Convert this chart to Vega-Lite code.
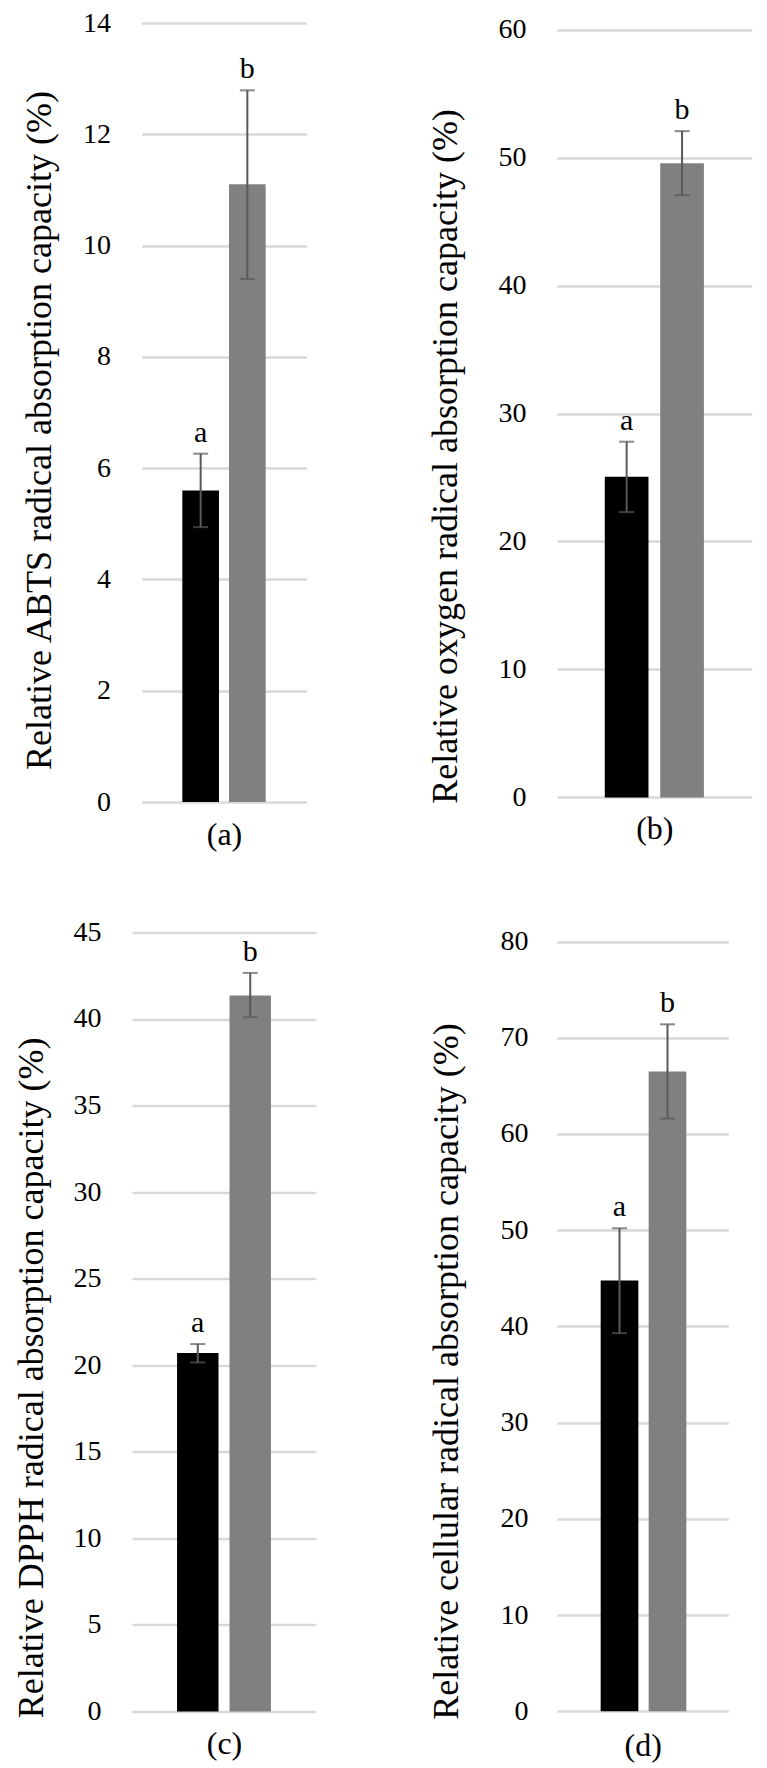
{
  "$schema": "https://vega.github.io/schema/vega-lite/v6.json",
  "padding": {"left": 13, "top": 9, "right": 15, "bottom": 10},
  "config": {
    "view": {"stroke": null},
    "font": "Liberation Serif",
    "text": {"font": "Liberation Serif"},
    "axis": {"labelFont": "Liberation Serif", "titleFont": "Liberation Serif", "labelColor": "#000000", "titleColor": "#000000", "titleFontWeight": "normal", "labelOverlap": false, "labelBound": false, "labelFlush": false, "format": "d"}
  },
  "bounds": "full",
  "spacing": 111,
  "hconcat": [
    {
      "vconcat": [
        {
          "width": 165, "height": 779,
          "data": {"values": [
            {"grp": "G1", "mean": 5.6, "lo": 4.94, "hi": 6.26, "letter": "a"},
            {"grp": "G2", "mean": 11.1, "lo": 9.4, "hi": 12.79, "letter": "b"}
          ]},
          "encoding": {"x": {"field": "grp", "type": "nominal", "sort": null,
            "scale": {"paddingInner": 0.214, "paddingOuter": 0.875},
            "axis": {"title": "(a)", "labels": false, "ticks": false, "domain": false, "grid": false, "titleFontSize": 32, "titleY": 32, "titleBaseline": "middle"}}},
          "layer": [
            {"mark": {"type": "bar"}, "encoding": {
              "y": {"field": "mean", "type": "quantitative", "title": "Relative ABTS radical absorption capacity (%)", "scale": {"domain": [0, 14], "nice": false},
                "axis": {"values": [0, 2, 4, 6, 8, 10, 12, 14], "format": "d", "grid": true, "gridColor": "#d9d9d9", "gridWidth": 2.5, "ticks": false, "domain": false, "labelFontSize": 28, "labelPadding": 31, "titleFontSize": 36, "titleX": -91, "titleY": 407, "titleAngle": -90, "titleAlign": "center", "titleBaseline": "alphabetic"}},
              "color": {"field": "grp", "type": "nominal", "scale": {"domain": ["G1", "G2"], "range": ["#000000", "#808080"]}, "legend": null}}},
            {"mark": {"type": "rule", "stroke": "#595959", "strokeWidth": 2}, "encoding": {
              "y": {"field": "lo", "type": "quantitative", "title": "Relative ABTS radical absorption capacity (%)", "scale": {"domain": [0, 14], "nice": false}}, "y2": {"field": "hi"}}},
            {"mark": {"type": "tick", "size": 15, "thickness": 2, "color": "#595959"}, "encoding": {
              "y": {"field": "lo", "type": "quantitative", "title": "Relative ABTS radical absorption capacity (%)", "scale": {"domain": [0, 14], "nice": false}}}},
            {"mark": {"type": "tick", "size": 15, "thickness": 2, "color": "#595959"}, "encoding": {
              "y": {"field": "hi", "type": "quantitative", "title": "Relative ABTS radical absorption capacity (%)", "scale": {"domain": [0, 14], "nice": false}}}},
            {"mark": {"type": "text", "font": "Liberation Serif", "fontSize": 30, "dy": -12, "baseline": "alphabetic", "align": "center", "color": "#000000"}, "encoding": {
              "y": {"field": "hi", "type": "quantitative", "title": "Relative ABTS radical absorption capacity (%)", "scale": {"domain": [0, 14], "nice": false}},
              "text": {"field": "letter"}}}
          ]
        },
        {
          "width": 184, "height": 779,
          "data": {"values": [
            {"grp": "G1", "mean": 20.7, "lo": 20.16, "hi": 21.22, "letter": "a"},
            {"grp": "G2", "mean": 41.35, "lo": 40.1, "hi": 42.66, "letter": "b"}
          ]},
          "encoding": {"x": {"field": "grp", "type": "nominal", "sort": null,
            "scale": {"paddingInner": 0.21, "paddingOuter": 0.859},
            "axis": {"title": "(c)", "labels": false, "ticks": false, "domain": false, "grid": false, "titleFontSize": 32, "titleY": 32, "titleBaseline": "middle"}}},
          "layer": [
            {"mark": {"type": "bar"}, "encoding": {
              "y": {"field": "mean", "type": "quantitative", "title": "Relative DPPH radical absorption capacity (%)", "scale": {"domain": [0, 45], "nice": false},
                "axis": {"values": [0, 5, 10, 15, 20, 25, 30, 35, 40, 45], "format": "d", "grid": true, "gridColor": "#d9d9d9", "gridWidth": 2.5, "ticks": false, "domain": false, "labelFontSize": 28, "labelPadding": 31, "titleFontSize": 36, "titleX": -89.6, "titleY": 445, "titleAngle": -90, "titleAlign": "center", "titleBaseline": "alphabetic"}},
              "color": {"field": "grp", "type": "nominal", "scale": {"domain": ["G1", "G2"], "range": ["#000000", "#808080"]}, "legend": null}}},
            {"mark": {"type": "rule", "stroke": "#595959", "strokeWidth": 2}, "encoding": {
              "y": {"field": "lo", "type": "quantitative", "title": "Relative DPPH radical absorption capacity (%)", "scale": {"domain": [0, 45], "nice": false}}, "y2": {"field": "hi"}}},
            {"mark": {"type": "tick", "size": 15, "thickness": 2, "color": "#595959"}, "encoding": {
              "y": {"field": "lo", "type": "quantitative", "title": "Relative DPPH radical absorption capacity (%)", "scale": {"domain": [0, 45], "nice": false}}}},
            {"mark": {"type": "tick", "size": 15, "thickness": 2, "color": "#595959"}, "encoding": {
              "y": {"field": "hi", "type": "quantitative", "title": "Relative DPPH radical absorption capacity (%)", "scale": {"domain": [0, 45], "nice": false}}}},
            {"mark": {"type": "text", "font": "Liberation Serif", "fontSize": 30, "dy": -12, "baseline": "alphabetic", "align": "center", "color": "#000000"}, "encoding": {
              "y": {"field": "hi", "type": "quantitative", "title": "Relative DPPH radical absorption capacity (%)", "scale": {"domain": [0, 45], "nice": false}},
              "text": {"field": "letter"}}}
          ]
        }
      ],
      "spacing": 130.4,
      "center": true,
      "bounds": "flush"
    },
    {
      "vconcat": [
        {
          "width": 194.7, "height": 774.4,
          "data": {"values": [
            {"grp": "G1", "mean": 25.05, "lo": 22.3, "hi": 27.8, "letter": "a"},
            {"grp": "G2", "mean": 49.55, "lo": 47.06, "hi": 52.07, "letter": "b"}
          ]},
          "encoding": {"x": {"field": "grp", "type": "nominal", "sort": null,
            "scale": {"paddingInner": 0.2116, "paddingOuter": 0.8626},
            "axis": {"title": "(b)", "labels": false, "ticks": false, "domain": false, "grid": false, "titleFontSize": 32, "titleY": 31, "titleBaseline": "middle"}}},
          "layer": [
            {"mark": {"type": "bar"}, "encoding": {
              "y": {"field": "mean", "type": "quantitative", "title": "Relative oxygen radical absorption capacity (%)", "scale": {"domain": [0, 60.52], "nice": false},
                "axis": {"values": [0, 10, 20, 30, 40, 50, 60], "format": "d", "grid": true, "gridColor": "#d9d9d9", "gridWidth": 2.5, "ticks": false, "domain": false, "labelFontSize": 28, "labelPadding": 31, "titleFontSize": 36, "titleX": -100.3, "titleY": 433, "titleAngle": -90, "titleAlign": "center", "titleBaseline": "alphabetic"}},
              "color": {"field": "grp", "type": "nominal", "scale": {"domain": ["G1", "G2"], "range": ["#000000", "#808080"]}, "legend": null}}},
            {"mark": {"type": "rule", "stroke": "#595959", "strokeWidth": 2}, "encoding": {
              "y": {"field": "lo", "type": "quantitative", "title": "Relative oxygen radical absorption capacity (%)", "scale": {"domain": [0, 60.52], "nice": false}}, "y2": {"field": "hi"}}},
            {"mark": {"type": "tick", "size": 15, "thickness": 2, "color": "#595959"}, "encoding": {
              "y": {"field": "lo", "type": "quantitative", "title": "Relative oxygen radical absorption capacity (%)", "scale": {"domain": [0, 60.52], "nice": false}}}},
            {"mark": {"type": "tick", "size": 15, "thickness": 2, "color": "#595959"}, "encoding": {
              "y": {"field": "hi", "type": "quantitative", "title": "Relative oxygen radical absorption capacity (%)", "scale": {"domain": [0, 60.52], "nice": false}}}},
            {"mark": {"type": "text", "font": "Liberation Serif", "fontSize": 30, "dy": -12, "baseline": "alphabetic", "align": "center", "color": "#000000"}, "encoding": {
              "y": {"field": "hi", "type": "quantitative", "title": "Relative oxygen radical absorption capacity (%)", "scale": {"domain": [0, 60.52], "nice": false}},
              "text": {"field": "letter"}}}
          ]
        },
        {
          "width": 171.3, "height": 778.3,
          "data": {"values": [
            {"grp": "G1", "mean": 44.77, "lo": 39.3, "hi": 50.2, "letter": "a"},
            {"grp": "G2", "mean": 66.5, "lo": 61.6, "hi": 71.4, "letter": "b"}
          ]},
          "encoding": {"x": {"field": "grp", "type": "nominal", "sort": null,
            "scale": {"paddingInner": 0.215, "paddingOuter": 0.892, "align": 0.51},
            "axis": {"title": "(d)", "labels": false, "ticks": false, "domain": false, "grid": false, "titleFontSize": 32, "titleY": 34, "titleBaseline": "middle"}}},
          "layer": [
            {"mark": {"type": "bar"}, "encoding": {
              "y": {"field": "mean", "type": "quantitative", "title": "Relative cellular radical absorption capacity (%)", "scale": {"domain": [0, 80.89], "nice": false},
                "axis": {"values": [0, 10, 20, 30, 40, 50, 60, 70, 80], "format": "d", "grid": true, "gridColor": "#d9d9d9", "gridWidth": 2.5, "ticks": false, "domain": false, "labelFontSize": 28, "labelPadding": 29, "titleFontSize": 36, "titleX": -99.7, "titleY": 438, "titleAngle": -90, "titleAlign": "center", "titleBaseline": "alphabetic"}},
              "color": {"field": "grp", "type": "nominal", "scale": {"domain": ["G1", "G2"], "range": ["#000000", "#808080"]}, "legend": null}}},
            {"mark": {"type": "rule", "stroke": "#595959", "strokeWidth": 2}, "encoding": {
              "y": {"field": "lo", "type": "quantitative", "title": "Relative cellular radical absorption capacity (%)", "scale": {"domain": [0, 80.89], "nice": false}}, "y2": {"field": "hi"}}},
            {"mark": {"type": "tick", "size": 15, "thickness": 2, "color": "#595959"}, "encoding": {
              "y": {"field": "lo", "type": "quantitative", "title": "Relative cellular radical absorption capacity (%)", "scale": {"domain": [0, 80.89], "nice": false}}}},
            {"mark": {"type": "tick", "size": 15, "thickness": 2, "color": "#595959"}, "encoding": {
              "y": {"field": "hi", "type": "quantitative", "title": "Relative cellular radical absorption capacity (%)", "scale": {"domain": [0, 80.89], "nice": false}}}},
            {"mark": {"type": "text", "font": "Liberation Serif", "fontSize": 30, "dy": -12, "baseline": "alphabetic", "align": "center", "color": "#000000"}, "encoding": {
              "y": {"field": "hi", "type": "quantitative", "title": "Relative cellular radical absorption capacity (%)", "scale": {"domain": [0, 80.89], "nice": false}},
              "text": {"field": "letter"}}}
          ]
        }
      ],
      "spacing": 135,
      "bounds": "flush"
    }
  ]
}
